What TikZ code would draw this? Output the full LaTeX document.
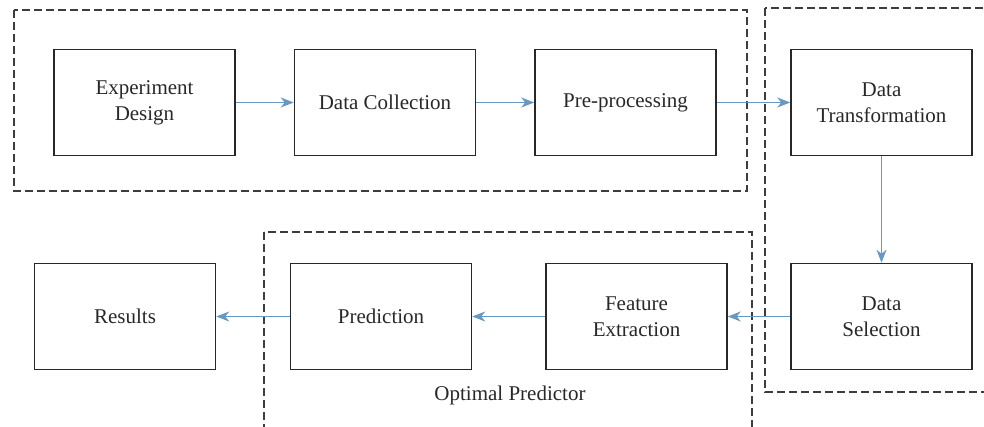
\documentclass[tikz,border=0pt]{standalone}
\usepackage{fontspec}
\setmainfont{Liberation Serif}
\usetikzlibrary{arrows.meta}
\definecolor{flowblue}{RGB}{104,152,192}
\definecolor{boxgray}{RGB}{40,40,40}

\begin{document}
\begin{tikzpicture}[
	x=0.5pt, y=-0.5pt,
	stage/.style={draw=boxgray, line width=0.75pt, align=center, inner sep=0pt,
		minimum width=90.5pt, minimum height=53pt, font=\fontsize{10.5}{13}\selectfont, text=boxgray},
	group/.style={draw=boxgray!90, line width=0.7pt, dash pattern=on 4pt off 2pt},
	flow/.style={draw=flowblue, line width=0.7pt, -{Stealth[length=6.5pt, width=5pt, inset=2pt]}}
]
	\useasboundingbox (0,0) rectangle (984,427);
	\clip (0,0) rectangle (984,427);
	% dashed groups
	\draw[group] (14,10) rectangle (747,191);
	\draw[group] (765,8) rectangle (1000,392);
	\draw[group] (264,232) rectangle (752,440);
	\node[font=\fontsize{10.5}{13}\selectfont, text=boxgray] (optlabel) at (510,395) {Optimal Predictor};
	% stages
	\node[stage] (design) at (144.5,102.5) {Experiment\\Design};
	\node[stage] (collect) at (385,102.5) {Data Collection};
	\node[stage] (prep) at (625.5,102.5) {Pre-processing};
	\node[stage] (transf) at (881.5,102.5) {Data\\Transformation};
	\node[stage] (select) at (881.5,316.5) {Data\\Selection};
	\node[stage] (feat) at (636.5,316.5) {Feature\\Extraction};
	\node[stage] (pred) at (381,316.5) {Prediction};
	\node[stage] (result) at (125,316.5) {Results};
	% arrows
	\draw[flow] (design) -- (collect);
	\draw[flow] (collect) -- (prep);
	\draw[flow] (prep) -- (transf);
	\draw[flow] (transf) -- (select);
	\draw[flow] (select) -- (feat);
	\draw[flow] (feat) -- (pred);
	\draw[flow] (pred) -- (result);
\end{tikzpicture}
\end{document}
